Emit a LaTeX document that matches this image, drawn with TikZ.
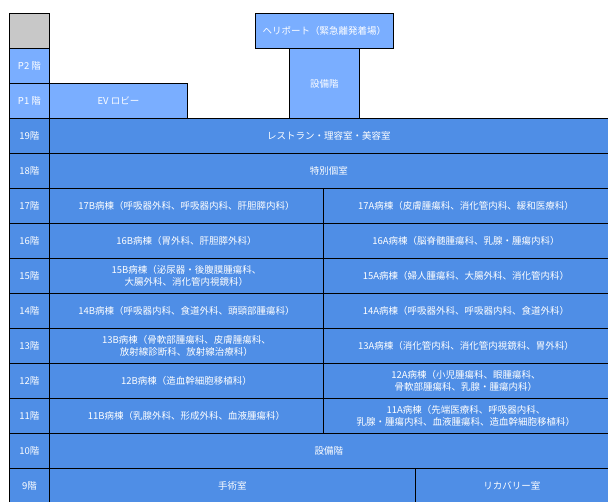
\documentclass[tikz,border=0pt]{standalone}
\usepackage{fontspec}
\setmainfont{Noto Sans CJK JP}
\definecolor{floorblue}{RGB}{79,142,230}
\definecolor{lightblue}{RGB}{122,174,255}
\definecolor{roofgray}{RGB}{200,200,200}
\begin{document}
\begin{tikzpicture}[x=1pt,y=-1pt,
    cell/.style={draw=black, line width=0.9pt, fill=floorblue, text=white, anchor=north west,
                 inner sep=0pt, align=center, font=\fontsize{9.5}{11.5}\selectfont},
    light/.style={cell, fill=lightblue}
]
    \useasboundingbox (0,0) rectangle (608,502);
    % Roof and penthouse
    \node[cell, fill=roofgray, minimum width=40pt, minimum height=35pt] (roof) at (9,13) {};
    \node[light, minimum width=40pt, minimum height=35pt] (p2) at (9,48) {P2 階};
    \node[light, minimum width=40pt, minimum height=35pt] (p1) at (9,83) {P1 階};
    \node[light, minimum width=138pt, minimum height=35pt] (evlobby) at (49,83) {EV ロビー};
    \node[light, minimum width=70pt, minimum height=70pt] (setsubiP) at (289,48) {設備階};
    \node[light, minimum width=138pt, minimum height=35pt] (heliport) at (255,13) {ヘリポート（緊急離発着場）};
    % Floor labels
    \foreach \f [count=\i from 0] in {19,18,17,16,15,14,13,12,11,10,9}
        \node[cell, minimum width=40pt, minimum height=35pt] (f\f) at (9,118+35*\i) {\f 階};
    % Full-width floors
    \node[cell, minimum width=559pt, minimum height=35pt] (w19) at (49,118) {レストラン・理容室・美容室};
    \node[cell, minimum width=559pt, minimum height=35pt] (w18) at (49,153) {特別個室};
    \node[cell, minimum width=559pt, minimum height=35pt] (w10) at (49,433) {設備階};
    % Wards B (left) and A (right)
    \foreach \f/\b/\a [count=\i from 2] in {
        17/17B病棟（呼吸器外科、呼吸器内科、肝胆膵内科）/17A病棟（皮膚腫瘍科、消化管内科、緩和医療科）,
        16/16B病棟（胃外科、肝胆膵外科）/16A病棟（脳脊髄腫瘍科、乳腺・腫瘍内科）,
        15/{15B病棟（泌尿器・後腹膜腫瘍科、\\大腸外科、消化管内視鏡科）}/15A病棟（婦人腫瘍科、大腸外科、消化管内科）,
        14/14B病棟（呼吸器内科、食道外科、頭頸部腫瘍科）/14A病棟（呼吸器外科、呼吸器内科、食道外科）,
        13/{13B病棟（骨軟部腫瘍科、皮膚腫瘍科、\\放射線診断科、放射線治療科）}/13A病棟（消化管内科、消化管内視鏡科、胃外科）,
        12/12B病棟（造血幹細胞移植科）/{12A病棟（小児腫瘍科、眼腫瘍科、\\骨軟部腫瘍科、乳腺・腫瘍内科）},
        11/11B病棟（乳腺外科、形成外科、血液腫瘍科）/{11A病棟（先端医療科、呼吸器内科、\\乳腺・腫瘍内科、血液腫瘍科、造血幹細胞移植科）}}
    {
        \node[cell, minimum width=274pt, minimum height=35pt] (b\f) at (49,118+35*\i) {\b};
        \node[cell, minimum width=285pt, minimum height=35pt] (a\f) at (323,118+35*\i) {\a};
    }
    % 9th floor
    \node[cell, minimum width=366pt, minimum height=35pt] (surgery) at (49,468) {手術室};
    \node[cell, minimum width=193pt, minimum height=35pt] (recovery) at (415,468) {リカバリー室};
\end{tikzpicture}
\end{document}
